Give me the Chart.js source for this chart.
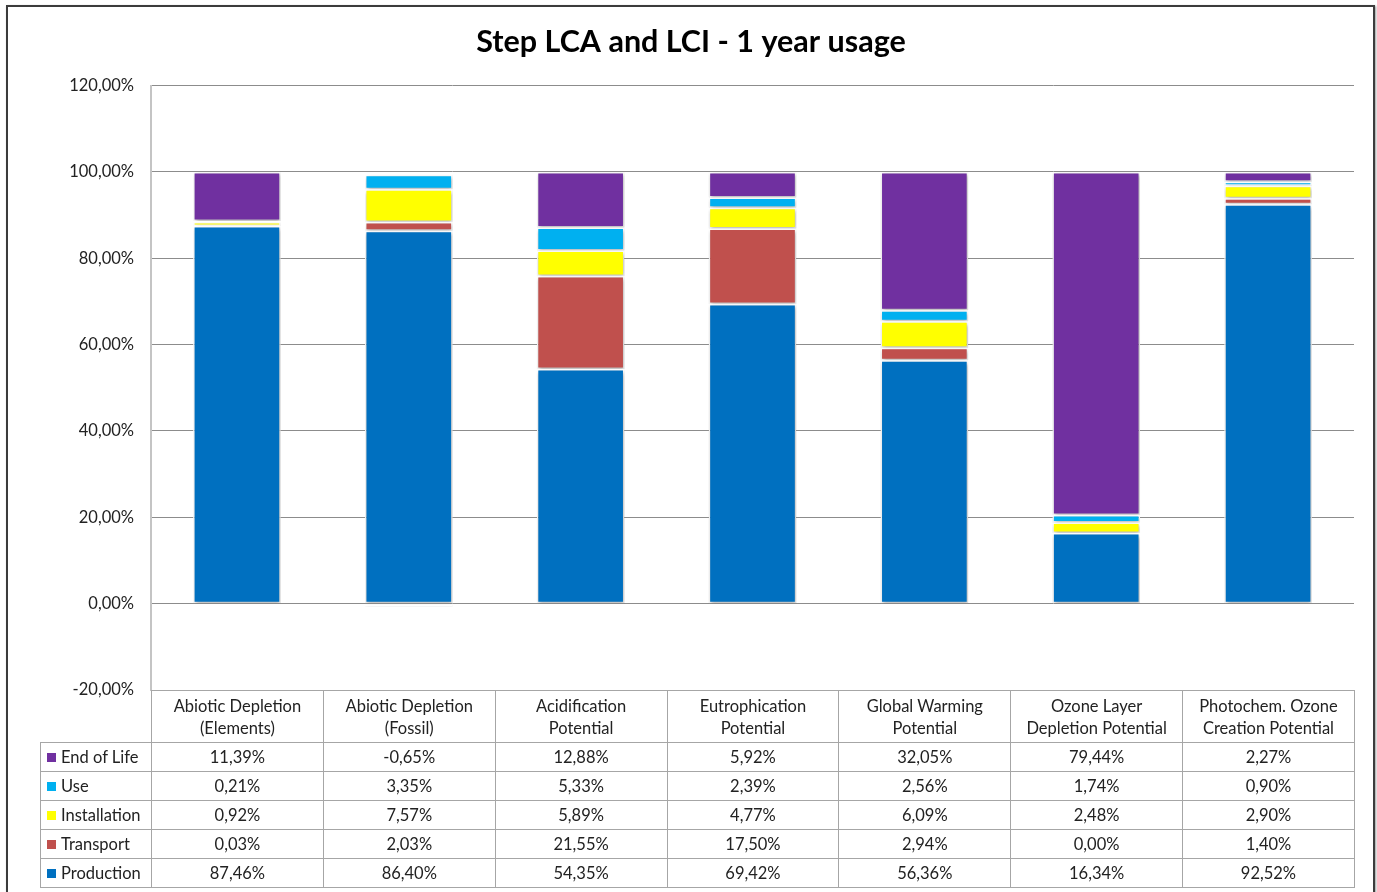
<!DOCTYPE html>
<html>
<head>
<meta charset="utf-8">
<script src="https://cdn.jsdelivr.net/npm/chart.js@4/dist/chart.umd.min.js"></script>
<style>
  body { margin: 0; background: #fff; }
  #wrap { position: relative; width: 1377px; height: 892px; overflow: hidden; font-family: Lato, "Noto Sans", sans-serif; }
  #frame { position: absolute; left: 6px; top: 5px; width: 1365px; height: 900px; border: 2px solid #3c3c3c; box-shadow: 1px 1px 2px rgba(0,0,0,0.4); }
  canvas { position: absolute; left: 0; top: 0; }
  #tbl { position: absolute; border-collapse: collapse; table-layout: fixed; font-size: 16.5px; color: #222; }
  #tbl td { border: 1px solid #a6a6a6; text-align: center; padding: 0; white-space: nowrap; }
  #tbl tr.head td { height: 51px; line-height: 22px; }
  #tbl tr.head td.blank { border: none; border-right: 1px solid #a6a6a6; }
  #tbl tr.row td { height: 28px; }
  #tbl td.key { text-align: left; padding-left: 6px; }
  .sw { display: inline-block; width: 9px; height: 9px; margin-right: 5px; vertical-align: 1px; }
</style>
</head>
<body>
<div id="wrap">
  <div id="frame"></div>
  <canvas id="myChart" width="1377" height="892"></canvas>
  <table id="tbl"></table>
</div>
<script>
// Categorias y valores (%)
const categories = [
  ["Abiotic Depletion", "(Elements)"],
  ["Abiotic Depletion", "(Fossil)"],
  ["Acidification", "Potential"],
  ["Eutrophication", "Potential"],
  ["Global Warming", "Potential"],
  ["Ozone Layer", "Depletion Potential"],
  ["Photochem. Ozone", "Creation Potential"]
];
const production   = [87.46, 86.40, 54.35, 69.42, 56.36, 16.34, 92.52];
const transport    = [0.03, 2.03, 21.55, 17.50, 2.94, 0.00, 1.40];
const installation = [0.92, 7.57, 5.89, 4.77, 6.09, 2.48, 2.90];
const use          = [0.21, 3.35, 5.33, 2.39, 2.56, 1.74, 0.90];
const endOfLife    = [11.39, -0.65, 12.88, 5.92, 32.05, 79.44, 2.27];

const seriesNames  = ["Production", "Transport", "Installation", "Use", "End of Life"];
const seriesData   = [production, transport, installation, use, endOfLife];
const seriesColors = ["#0070C0", "#C0504D", "#FFFF00", "#00B0F0", "#7030A0"];

const fmt = v => v.toFixed(2).replace('.', ',') + '%';

// sombra suave de las barras
const barShadow = {
  id: 'barShadow',
  beforeDatasetsDraw(chart) {
    const ctx = chart.ctx;
    ctx.save();
    ctx.shadowColor = 'rgba(0,0,0,0.3)';
    ctx.shadowBlur = 4;
    ctx.shadowOffsetX = 1;
    ctx.shadowOffsetY = 2;
  },
  afterDatasetsDraw(chart) {
    chart.ctx.restore();
  }
};

const ctx = document.getElementById('myChart');
const chart = new Chart(ctx, {
  type: 'bar',
  data: {
    labels: categories,
    datasets: seriesNames.map((name, i) => ({
      label: name,
      data: seriesData[i],
      backgroundColor: seriesColors[i],
      borderColor: '#ffffff',
      borderWidth: 1.5,
      borderSkipped: false,
      categoryPercentage: 1,
      barPercentage: 0.51
    }))
  },
  options: {
    responsive: false,
    animation: false,
    layout: { padding: { top: 0, right: 23, bottom: 202, left: 28 } },
    plugins: {
      legend: { display: false },
      tooltip: { enabled: false },
      title: {
        display: true,
        text: 'Step LCA and LCI - 1 year usage',
        color: '#000',
        font: { family: 'Lato', size: 30.5, weight: 'bold' },
        padding: { top: 24, bottom: 25 }
      }
    },
    scales: {
      x: {
        stacked: true,
        display: false
      },
      y: {
        stacked: true,
        min: -20,
        max: 120,
        afterFit(scale) { scale.width = 123; },
        ticks: {
          stepSize: 20,
          padding: 17,
          color: '#222',
          font: { family: 'Lato', size: 16.5 },
          callback: v => fmt(v)
        },
        grid: { color: '#8c8c8c', lineWidth: 1, drawTicks: false },
        border: { color: '#c4c4c4', width: 2 }
      }
    }
  },
  plugins: [barShadow]
});

// tabla de datos bajo el grafico
const area = chart.chartArea;
const tbl = document.getElementById('tbl');
const keyLeft = 40;
const colW = (area.right - area.left) / categories.length;
tbl.style.left = keyLeft + 'px';
tbl.style.top = Math.round(area.bottom) + 'px';
tbl.style.width = (area.right - keyLeft) + 'px';

let html = '<colgroup><col style="width:' + (area.left - keyLeft) + 'px">';
categories.forEach(() => { html += '<col style="width:' + colW + 'px">'; });
html += '</colgroup>';
html += '<tr class="head"><td class="blank"></td>';
categories.forEach(c => { html += '<td>' + c.join('<br>') + '</td>'; });
html += '</tr>';
for (let i = seriesNames.length - 1; i >= 0; i--) {
  html += '<tr class="row"><td class="key"><span class="sw" style="background:' + seriesColors[i] + '"></span>' + seriesNames[i] + '</td>';
  seriesData[i].forEach(v => { html += '<td>' + fmt(v) + '</td>'; });
  html += '</tr>';
}
tbl.innerHTML = html;
</script>
</body>
</html>
